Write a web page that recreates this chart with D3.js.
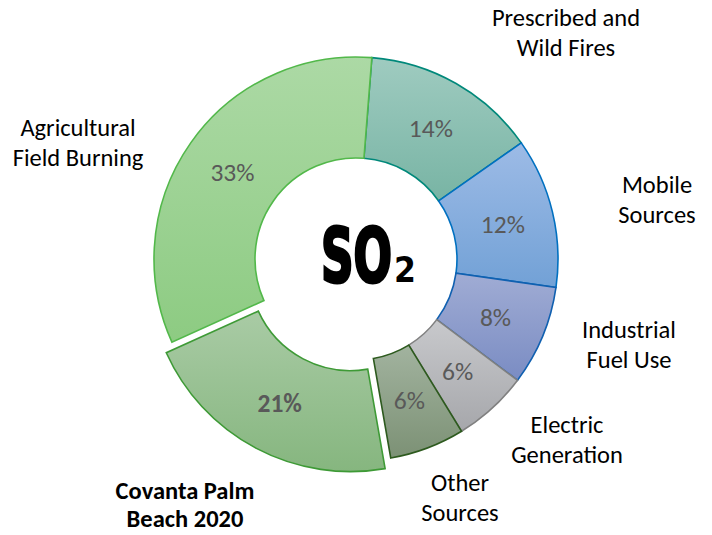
<!DOCTYPE html>
<html>
<head>
<meta charset="utf-8">
<script src="https://cdn.jsdelivr.net/npm/d3@7"></script>
<style>
  body { margin: 0; background: #fff; }
  svg { display: block; }
  .lbl { font-family: Carlito, Lato, "Open Sans", sans-serif; font-size: 24.5px; fill: #000; }
  .pct { font-family: Carlito, Lato, "Open Sans", sans-serif; font-size: 25.5px; fill: #595959; }
</style>
</head>
<body>
<script>
// SO2 sources share (%), clockwise from the top
var categories = ["Prescribed and|Wild Fires", "Mobile|Sources", "Industrial|Fuel Use",
  "Electric|Generation", "Other|Sources", "Covanta Palm|Beach 2020", "Agricultural|Field Burning"];
var values = [14, 12, 8, 6, 6, 21, 33];
var topColors = ["#9fcbc0", "#9dbbe6", "#a0acd4", "#c8c9cc", "#a2b39f", "#a9cba5", "#acd9a5"];
var bottomColors = ["#78b4a4", "#72a1d6", "#7a8cc3", "#a6a7ab", "#7c9175", "#86b67f", "#8dcb82"];
var strokeColors = ["#00887a", "#0070c0", "#1060b0", "#808080", "#2d5a1e", "#3e9a36", "#52b84a"];
var labelPos = [[566, 26], [657, 193], [629, 338], [567, 433], [460, 491], [185, 499], [78, 136]];
var exploded = 5;

var W = 712, H = 535;
var cx = 356, cy = 259, rOuter = 202, rInner = 101, offset = 12;

var svg = d3.select("body").append("svg").attr("width", W).attr("height", H);
var defs = svg.append("defs");

values.forEach(function (v, i) {
  var g = defs.append("linearGradient").attr("id", "grad" + i)
    .attr("x1", 0).attr("y1", 0).attr("x2", 0).attr("y2", 1);
  g.append("stop").attr("offset", 0).attr("stop-color", topColors[i]);
  g.append("stop").attr("offset", 1).attr("stop-color", bottomColors[i]);
});

var startAngle = 4.5 * Math.PI / 180;
var pie = d3.pie().sort(null).value(function (d) { return d; })
  .startAngle(startAngle).endAngle(startAngle + 2 * Math.PI);
var arc = d3.arc().innerRadius(rInner).outerRadius(rOuter);
var labelArc = d3.arc().innerRadius(151).outerRadius(151);
var arcs = pie(values);

function shift(d, i) {
  if (i !== exploded) return [0, 0];
  var a = (d.startAngle + d.endAngle) / 2;
  return [offset * Math.sin(a), -offset * Math.cos(a)];
}

var chart = svg.append("g").attr("transform", "translate(" + cx + "," + cy + ")");

var slices = chart.selectAll("g.slice").data(arcs).enter().append("g")
  .attr("class", "slice")
  .attr("transform", function (d, i) { var s = shift(d, i); return "translate(" + s[0] + "," + s[1] + ")"; });

slices.append("path")
  .attr("d", arc)
  .attr("fill", function (d, i) { return "url(#grad" + i + ")"; })
  .attr("stroke", function (d, i) { return strokeColors[i]; })
  .attr("stroke-width", 1.6)
  .attr("stroke-linejoin", "miter");

slices.append("text")
  .attr("class", "pct")
  .attr("transform", function (d) { return "translate(" + labelArc.centroid(d) + ")"; })
  .attr("text-anchor", "middle")
  .attr("dy", "0.35em")
  .style("font-weight", function (d, i) { return i === exploded ? "bold" : null; })
  .text(function (d) { return d.value + "%"; });

// category labels
categories.forEach(function (c, i) {
  var t = svg.append("text").attr("class", "lbl").attr("text-anchor", "middle")
    .style("font-weight", i === exploded ? "bold" : null);
  var gap = i === exploded ? 28 : 30;
  c.split("|").forEach(function (line, j) {
    t.append("tspan").attr("x", labelPos[i][0]).attr("y", labelPos[i][1] + j * gap).text(line);
  });
});

// SO2 in the hole
var title = svg.append("g").attr("transform", "translate(321,282) scale(0.68,1)");
title.append("text")
  .attr("x", 0).attr("y", 0)
  .style("font-family", "'Liberation Sans Narrow', 'DejaVu Sans Condensed', sans-serif")
  .style("font-weight", "bold").style("font-size", "74px")
  .attr("stroke", "#000").attr("stroke-width", 3)
  .text("SO");
svg.append("text")
  .attr("x", 394).attr("y", 282)
  .style("font-family", "'Liberation Sans Narrow', 'DejaVu Sans Condensed', sans-serif")
  .style("font-size", "35px").style("font-weight", "bold")
  .text("2");
</script>
</body>
</html>
